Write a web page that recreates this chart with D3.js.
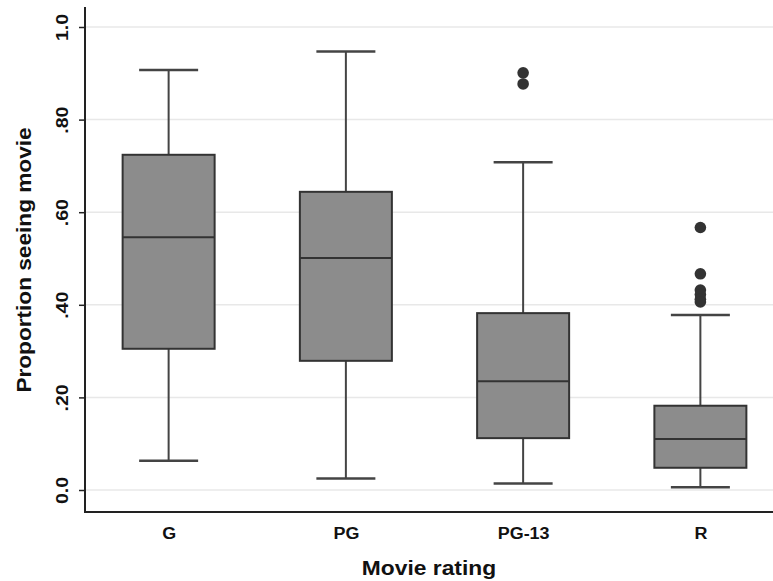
<!DOCTYPE html>
<html>
<head>
<meta charset="utf-8">
<script src="https://cdn.jsdelivr.net/npm/d3@7"></script>
<style>
  html, body { margin: 0; padding: 0; background: #fff; }
  svg { display: block; }
  text { font-family: "Liberation Sans", Arial, Helvetica, sans-serif; font-weight: bold; fill: #111; }
</style>
</head>
<body>
<script>
const categories = ["G", "PG", "PG-13", "R"];
const whiskerLow = [0.063, 0.025, 0.014, 0.006];
const q1 = [0.305, 0.279, 0.112, 0.048];
const median = [0.546, 0.501, 0.235, 0.110];
const q3 = [0.724, 0.644, 0.382, 0.182];
const whiskerHigh = [0.907, 0.947, 0.708, 0.378];
const outlierCategory = ["PG-13", "PG-13", "R", "R", "R", "R", "R", "R"];
const outlierValue = [0.901, 0.877, 0.567, 0.467, 0.432, 0.422, 0.412, 0.406];
const yTickValues = [0, 0.2, 0.4, 0.6, 0.8, 1.0];
const yTickLabels = ["0.0", ".20", ".40", ".60", ".80", "1.0"];
const xTitle = "Movie rating";
const yTitle = "Proportion seeing movie";

const W = 773, H = 581;
const svg = d3.select("body").append("svg").attr("width", W).attr("height", H);

const axisX = 85, axisY = 512;
const x = d3.scalePoint().domain(categories).range([80, 789]).padding(0.5);
const y = d3.scaleLinear().domain([0, 1]).range([490, 27]);

const boxW = 92, capW = 59;

function stretch(sel, k) {
  sel.each(function () {
    const len = this.getComputedTextLength();
    d3.select(this).attr("textLength", len * k).attr("lengthAdjust", "spacingAndGlyphs");
  });
}

// gridlines
svg.append("g").selectAll("line").data(yTickValues).join("line")
  .attr("x1", axisX + 1).attr("x2", W)
  .attr("y1", d => y(d)).attr("y2", d => y(d))
  .attr("stroke", "#e8e8e8").attr("stroke-width", 1.5);

// y axis
const yAxis = d3.axisLeft(y).tickValues(yTickValues).tickSize(6)
  .tickFormat((d, i) => yTickLabels[i]);
const gy = svg.append("g").attr("transform", `translate(${axisX},0)`).call(yAxis);
gy.select(".domain").remove();
gy.selectAll(".tick line").attr("stroke", "#222").attr("stroke-width", 1.5);
gy.selectAll(".tick text")
  .attr("transform", "rotate(-90)")
  .attr("x", 0).attr("y", -17).attr("dy", 0)
  .attr("text-anchor", "middle")
  .style("font-size", "16px")
  .call(stretch, 1.22);
svg.append("line").attr("x1", axisX).attr("x2", axisX).attr("y1", 7).attr("y2", axisY + 1)
  .attr("stroke", "#222").attr("stroke-width", 2);

// x axis
const xAxis = d3.axisBottom(x).tickSize(0).tickPadding(0);
const gx = svg.append("g").attr("transform", `translate(0,${axisY})`).call(xAxis);
gx.select(".domain").remove();
gx.selectAll(".tick text").attr("y", 27).attr("dy", 0).style("font-size", "16px")
  .call(stretch, 1.12);
svg.append("line").attr("x1", axisX).attr("x2", W).attr("y1", axisY).attr("y2", axisY)
  .attr("stroke", "#222").attr("stroke-width", 2);

// titles
svg.append("text").attr("x", (axisX + W) / 2).attr("y", 575)
  .attr("text-anchor", "middle").style("font-size", "19.5px").text(xTitle)
  .call(stretch, 1.17);
svg.append("text").attr("transform", `translate(31,260) rotate(-90)`)
  .attr("text-anchor", "middle").style("font-size", "19.5px").text(yTitle)
  .call(stretch, 1.16);

// boxes
const boxes = svg.append("g");
categories.forEach((c, i) => {
  const cx = x(c);
  const g = boxes.append("g");
  g.append("line").attr("x1", cx).attr("x2", cx).attr("y1", y(q3[i])).attr("y2", y(whiskerHigh[i]))
    .attr("stroke", "#444").attr("stroke-width", 2);
  g.append("line").attr("x1", cx).attr("x2", cx).attr("y1", y(q1[i])).attr("y2", y(whiskerLow[i]))
    .attr("stroke", "#444").attr("stroke-width", 2);
  g.append("line").attr("x1", cx - capW / 2).attr("x2", cx + capW / 2)
    .attr("y1", y(whiskerHigh[i])).attr("y2", y(whiskerHigh[i]))
    .attr("stroke", "#444").attr("stroke-width", 2.5);
  g.append("line").attr("x1", cx - capW / 2).attr("x2", cx + capW / 2)
    .attr("y1", y(whiskerLow[i])).attr("y2", y(whiskerLow[i]))
    .attr("stroke", "#444").attr("stroke-width", 2.5);
  g.append("rect").attr("x", cx - boxW / 2).attr("width", boxW)
    .attr("y", y(q3[i])).attr("height", y(q1[i]) - y(q3[i]))
    .attr("fill", "#8c8c8c").attr("stroke", "#333").attr("stroke-width", 2);
  g.append("line").attr("x1", cx - boxW / 2).attr("x2", cx + boxW / 2)
    .attr("y1", y(median[i])).attr("y2", y(median[i]))
    .attr("stroke", "#333").attr("stroke-width", 2);
});

// outliers
svg.append("g").selectAll("circle").data(outlierValue).join("circle")
  .attr("cx", (d, i) => x(outlierCategory[i]))
  .attr("cy", d => y(d))
  .attr("r", 5.8)
  .attr("fill", "#333");
</script>
</body>
</html>
